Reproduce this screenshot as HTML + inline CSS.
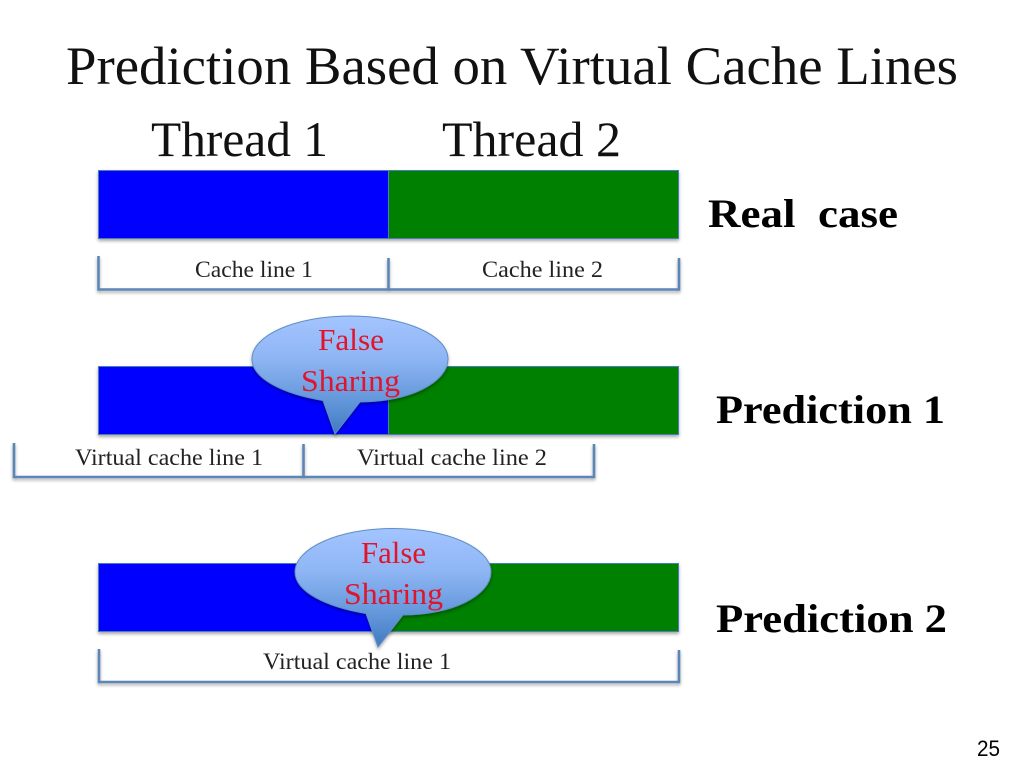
<!DOCTYPE html>
<html>
<head>
<meta charset="utf-8">
<style>
html,body{margin:0;padding:0;background:#fff;width:1024px;height:768px;overflow:hidden}
svg{display:block}
text{font-family:"Liberation Serif",serif;fill:#111}
.b{font-weight:bold;font-size:40px;fill:#000}
.s{font-size:23px;fill:#222}
.r{font-size:31px;fill:#e0142c}
.br{fill:none;stroke:#5b86b8;stroke-width:2.6}
.bar{stroke:#4a7ebb;stroke-width:1}
</style>
</head>
<body>
<svg width="1024" height="768" viewBox="0 0 1024 768" xmlns="http://www.w3.org/2000/svg">
<defs>
<linearGradient id="g" x1="0" y1="0" x2="0" y2="1">
<stop offset="0" stop-color="#a3c4ff"/>
<stop offset="0.35" stop-color="#8fb6f4"/>
<stop offset="0.75" stop-color="#5f94d8"/>
<stop offset="1" stop-color="#4179c0"/>
</linearGradient>
<filter id="sh" x="-10%" y="-10%" width="120%" height="130%">
<feDropShadow dx="0" dy="2" stdDeviation="1.5" flood-color="#000" flood-opacity="0.35"/>
</filter>
</defs>

<text x="66" y="84" font-size="54" textLength="892" lengthAdjust="spacingAndGlyphs">Prediction Based on Virtual Cache Lines</text>
<text x="151" y="156" font-size="50" textLength="177" lengthAdjust="spacingAndGlyphs">Thread 1</text>
<text x="442" y="156" font-size="50" textLength="179" lengthAdjust="spacingAndGlyphs">Thread 2</text>

<g filter="url(#sh)">
<rect class="bar" x="98.500" y="170.500" width="290" height="68" fill="#0000ff"/>
<rect class="bar" x="388.500" y="170.500" width="290" height="68" fill="#008000"/>
</g>
<g filter="url(#sh)">
<rect class="bar" x="98.500" y="366.500" width="290" height="68" fill="#0000ff"/>
<rect class="bar" x="388.500" y="366.500" width="290" height="68" fill="#008000"/>
</g>
<g filter="url(#sh)">
<rect class="bar" x="98.500" y="563.500" width="290" height="68" fill="#0000ff"/>
<rect x="388.500" y="563.500" width="290" height="68" fill="#008000" stroke="#4a7ebb"/>
<rect x="380" y="564" width="18" height="67" fill="#0000ff" opacity="0"/>
</g>

<g filter="url(#sh)">
<path class="br" d="M98.500 256V289.500H679V258M388.500 258V289.500"/>
</g>
<g filter="url(#sh)">
<path class="br" d="M14 443V477H594V444M303.500 444V477"/>
</g>
<g filter="url(#sh)">
<path class="br" d="M99 649V682H679V650"/>
</g>

<text class="s" x="195" y="277" textLength="118" lengthAdjust="spacingAndGlyphs">Cache line 1</text>
<text class="s" x="482" y="277" textLength="121" lengthAdjust="spacingAndGlyphs">Cache line 2</text>
<text class="s" x="75" y="465" textLength="188" lengthAdjust="spacingAndGlyphs">Virtual cache line 1</text>
<text class="s" x="357" y="465" textLength="190" lengthAdjust="spacingAndGlyphs">Virtual cache line 2</text>
<text class="s" x="263" y="669" textLength="188" lengthAdjust="spacingAndGlyphs">Virtual cache line 1</text>

<text class="b" x="708" y="227" textLength="190" lengthAdjust="spacingAndGlyphs" xml:space="preserve">Real  case</text>
<text class="b" x="716" y="423" textLength="229" lengthAdjust="spacingAndGlyphs">Prediction 1</text>
<text class="b" x="716" y="632" textLength="231" lengthAdjust="spacingAndGlyphs">Prediction 2</text>

<path filter="url(#sh)" fill="url(#g)" stroke="#5f8fc4" stroke-width="1" d="M323 400.500C284 394 252 379 252 359C252 335 296 316 350 316C404 316 448 335 448 359C448 383 408 402 360 402L335 434Z"/>
<text class="r" x="318" y="350" textLength="66" lengthAdjust="spacingAndGlyphs">False</text>
<text class="r" x="301" y="391" textLength="99" lengthAdjust="spacingAndGlyphs">Sharing</text>

<path filter="url(#sh)" fill="url(#g)" stroke="#5f8fc4" stroke-width="1" d="M366 613.500C327 607 295 592 295 572C295 548 339 528.500 393 528.500C447 528.500 491 548 491 572C491 596 451 615 403 615L378 647Z"/>
<text class="r" x="361" y="563" textLength="65" lengthAdjust="spacingAndGlyphs">False</text>
<text class="r" x="344" y="604" textLength="99" lengthAdjust="spacingAndGlyphs">Sharing</text>

<text x="977" y="756" font-size="22" style="font-family:'Liberation Sans',sans-serif;fill:#000" textLength="23" lengthAdjust="spacingAndGlyphs">25</text>
</svg>
</body>
</html>
